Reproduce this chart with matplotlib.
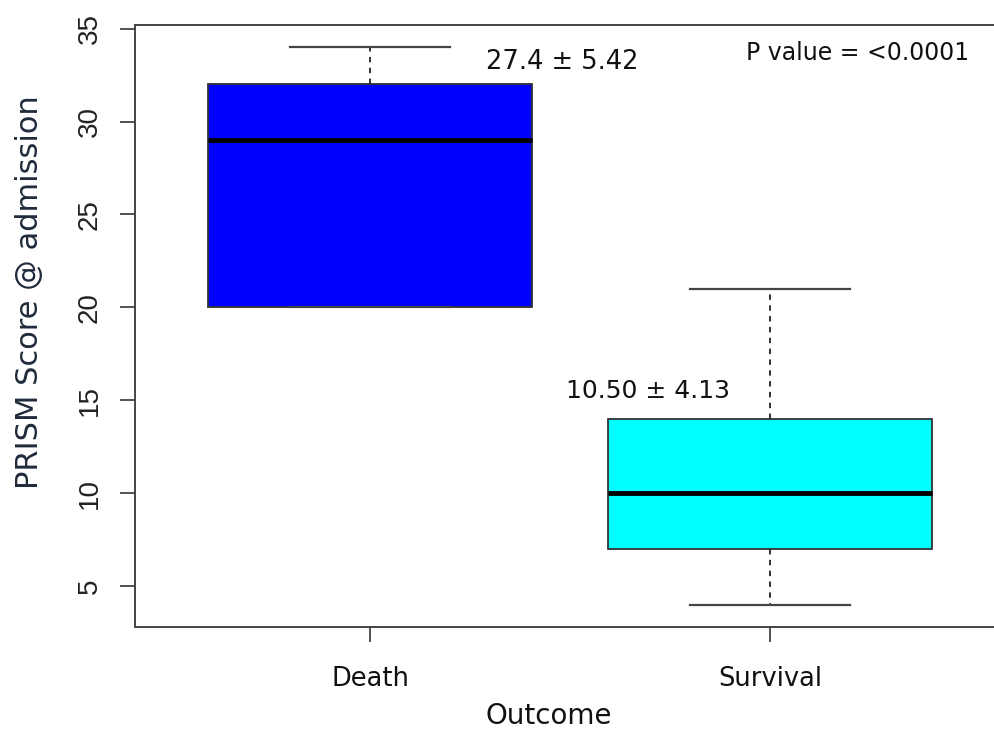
import matplotlib
matplotlib.use("Agg")
import matplotlib.pyplot as plt

# outcome groups and their box summaries
groups = ["Death", "Survival"]
whisker_low = [20, 4]
q1 = [20, 7]
medians = [29, 10]
q3 = [32, 14]
whisker_high = [34, 21]
box_colors = ["#0000FF", "#00FFFF"]
mean_sd_labels = ["27.4 \u00b1 5.42", "10.50 \u00b1 4.13"]
p_value_label = "P value = <0.0001"

hand = "DejaVu Sans"
tick_font = "Liberation Sans"

fig = plt.figure(figsize=(9.94, 7.3), dpi=100)
ax = fig.add_axes([0.1358, 0.1411, 0.8714, 0.8247])

stats = []
for i, g in enumerate(groups):
    stats.append(dict(label=g, whislo=whisker_low[i], q1=q1[i], med=medians[i],
                      q3=q3[i], whishi=whisker_high[i], fliers=[]))

bp = ax.bxp(stats, positions=[1, 2], widths=0.81, patch_artist=True,
            showfliers=False,
            boxprops=dict(edgecolor="#333333", linewidth=1.3),
            medianprops=dict(color="black", linewidth=3.5, solid_capstyle="butt"),
            whiskerprops=dict(color="#222222", linestyle=(0, (3, 3)), linewidth=1.3),
            capprops=dict(color="#444444", linewidth=1.6),
            capwidths=0.4)
for patch, c in zip(bp["boxes"], box_colors):
    patch.set_facecolor(c)

ax.set_xlim(0.4125, 2.5775)
ax.set_ylim(2.8, 35.2)
ax.set_yticks([5, 10, 15, 20, 25, 30, 35])
ax.set_xticks([1, 2])
ax.set_xticklabels(groups, fontfamily=hand, fontsize=18.5, color="#111111")
for lab in ax.get_yticklabels():
    lab.set_rotation(90)
    lab.set_va("center")
    lab.set_fontfamily(tick_font)
    lab.set_fontsize(20)
    lab.set_color("#222222")
ax.tick_params(axis="y", length=11, width=1.3, color="#444444", pad=12)
ax.tick_params(axis="x", length=11, width=1.3, color="#444444", pad=17)
for side in ["left", "bottom", "top"]:
    ax.spines[side].set_color("#444444")
    ax.spines[side].set_linewidth(1.4)
ax.spines["right"].set_visible(False)

ax.set_xlabel("Outcome", fontfamily=hand, fontsize=20, color="#111111")
ax.xaxis.set_label_coords(0.478, -0.125)
ax.set_ylabel("PRISM Score @ admission", fontfamily=hand, fontsize=22,
              color="#1f2a3a")
ax.yaxis.set_label_coords(-0.105, 0.557)

ax.text(1.29, 33.2, mean_sd_labels[0], fontfamily=hand, fontsize=18.5,
        va="center", ha="left", color="#111111")
ax.text(1.49, 15.5, mean_sd_labels[1], fontfamily=hand, fontsize=18,
        va="center", ha="left", color="#111111")
ax.text(1.94, 33.7, p_value_label, fontfamily=hand, fontsize=17,
        va="center", ha="left", color="#111111")

fig.savefig("out.png", dpi=100)
